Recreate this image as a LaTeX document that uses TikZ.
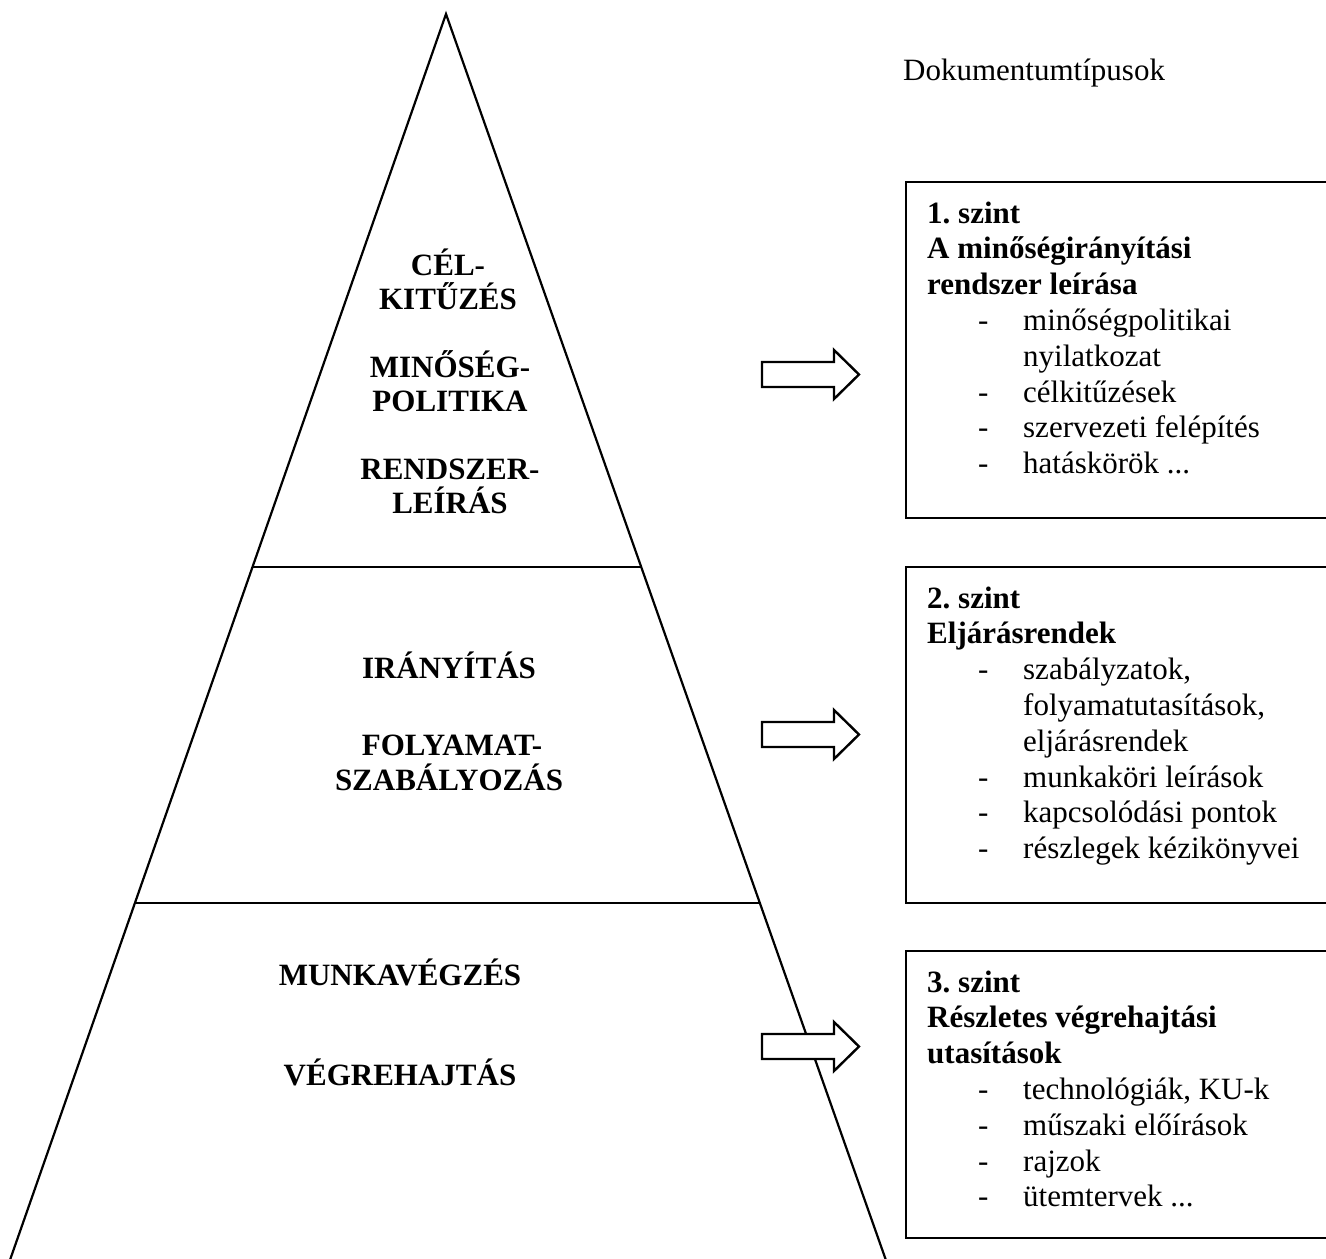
\documentclass[tikz,border=0pt]{standalone}
\usepackage{fontspec}
\setmainfont{Liberation Serif}
\usetikzlibrary{calc}
\frenchspacing
\newcommand\dashitem[1]{\hbox{\hskip51pt\hbox to 45pt{-\hss}#1}}
\newcommand\contitem[1]{\hbox{\hskip96pt #1}}
\newcommand\bline[1]{\hbox{\bfseries #1}}
\begin{document}
\begin{tikzpicture}[x=1pt,y=-1pt,
  txt/.style={inner sep=0pt, anchor=base west, font=\fontsize{31}{35.8}\selectfont},
  ptxt/.style={inner sep=0pt, anchor=base, font=\fontsize{31}{34}\selectfont\bfseries},
  pyr/.style={line width=2.2pt, line join=miter},
  frame/.style={line width=2.6pt},
  blk/.style={line width=2.4pt, fill=white, line join=miter}]
\useasboundingbox (0,0) rectangle (1326,1259);
\clip (0,0) rectangle (1326,1259);

% pyramid
\coordinate (apex) at (446,14);
\coordinate (bl) at (-4,1300);
\coordinate (br) at (900,1300);
\coordinate (l1) at ($(apex)!0.430!(bl)$);
\coordinate (r1) at ($(apex)!0.430!(br)$);
\coordinate (l2) at ($(apex)!0.6913!(bl)$);
\coordinate (r2) at ($(apex)!0.6913!(br)$);
\draw[pyr] (bl) -- (apex) -- (br);
\draw[pyr] (l1) -- (r1);
\draw[pyr] (l2) -- (r2);

% pyramid texts
\node[ptxt] (p1) at (448,275) {CÉL-};
\node[ptxt] (p2) at (448,309) {KITŰZÉS};
\node[ptxt] (p3) at (450,377) {MINŐSÉG-};
\node[ptxt] (p4) at (450,411) {POLITIKA};
\node[ptxt] (p5) at (450,479) {RENDSZER-};
\node[ptxt] (p6) at (450,513) {LEÍRÁS};
\node[ptxt] (p7) at (449,678) {IRÁNYÍTÁS};
\node[ptxt] (p8) at (452,755) {FOLYAMAT-};
\node[ptxt] (p9) at (449,790) {SZABÁLYOZÁS};
\node[ptxt] (p10) at (400,985) {MUNKAVÉGZÉS};
\node[ptxt] (p11) at (400,1085) {VÉGREHAJTÁS};

% block arrows
\foreach \n/\yc in {1/374.5, 2/734.5, 3/1046.5}{
  \draw[blk] (762,{\yc-12.5}) -- (834,{\yc-12.5}) -- (834,{\yc-24.5}) -- (859,\yc)
    -- (834,{\yc+24.5}) -- (834,{\yc+12.5}) -- (762,{\yc+12.5}) -- cycle;
}

% title
\node[txt] (title) at (903,80) {Dokumentumtípusok};

% boxes
\draw[frame] (906,182) rectangle (1345,518);
\draw[frame] (906,567) rectangle (1345,903);
\draw[frame] (906,951) rectangle (1345,1238);

\node[txt] (lvl1) at (927,223) {\vtop{%
  \bline{1. szint}\bline{A minőségirányítási}\bline{rendszer leírása}%
  \dashitem{minőségpolitikai}\contitem{nyilatkozat}%
  \dashitem{célkitűzések}\dashitem{szervezeti felépítés}\dashitem{hatáskörök ...}}};

\node[txt] (lvl2) at (927,608) {\vtop{%
  \bline{2. szint}\bline{Eljárásrendek}%
  \dashitem{szabályzatok,}\contitem{folyamatutasítások,}\contitem{eljárásrendek}%
  \dashitem{munkaköri leírások}\dashitem{kapcsolódási pontok}\dashitem{részlegek kézikönyvei}}};

\node[txt] (lvl3) at (927,992) {\vtop{%
  \bline{3. szint}\bline{Részletes végrehajtási}\bline{utasítások}%
  \dashitem{technológiák, KU-k}\dashitem{műszaki előírások}\dashitem{rajzok}\dashitem{ütemtervek ...}}};
\end{tikzpicture}
\end{document}
